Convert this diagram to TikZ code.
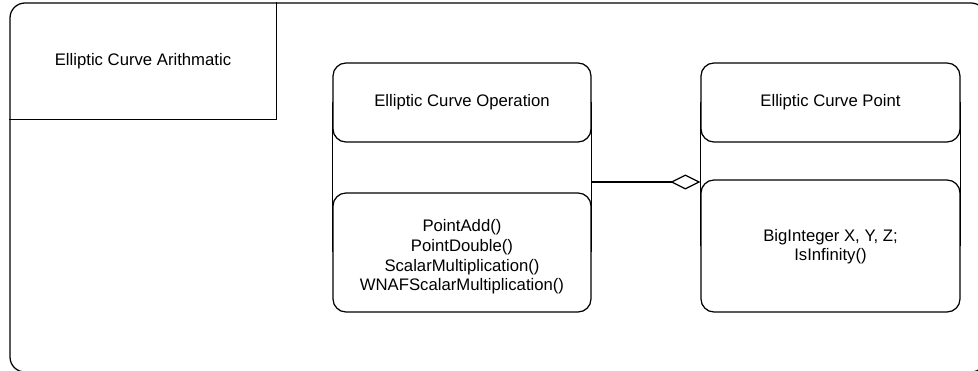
\documentclass[tikz,border=0pt]{standalone}
\usepackage{fontspec}
\setmainfont{Liberation Sans}
\usetikzlibrary{arrows.meta}
\begin{document}
\begin{tikzpicture}[x=1pt,y=-1pt,line width=1.25pt,
  txt/.style={font=\fontsize{16.7}{19.6}\selectfont,align=center,inner sep=0pt},
  part/.style={draw,rounded corners=13pt,inner sep=0pt},
  frame/.style={inner sep=0pt}]
\useasboundingbox (0,0) rectangle (978,371);
\begin{scope}
  \clip (0,0) rectangle (978,371);
  \draw[rounded corners=15pt] (10,3) rectangle (986,372);
\end{scope}
% package label
\node[frame,minimum width=266pt,minimum height=116pt] (lab) at (143,61) {};
\draw (lab.south west) -- (lab.south east) -- (lab.north east);
\node[txt] (labtext) at (lab.center) {Elliptic Curve Arithmatic};
% Elliptic Curve Operation
\node[frame,minimum width=258pt,minimum height=249pt] (opframe) at (462,187.5) {};
\node[part,minimum width=258pt,minimum height=79pt] (ophead) at (462,102.5) {};
\node[part,minimum width=258pt,minimum height=119pt] (opbody) at (462,252.5) {};
\draw (ophead.west) -- (opbody.west);
\draw (ophead.east) -- (opbody.east);
\node[txt] (optitle) at (ophead.center) {Elliptic Curve Operation};
\node[txt] (opmeth) at (462,257) {PointAdd()\\PointDouble()\\ScalarMultiplication()\\WNAFScalarMultiplication()};
% Elliptic Curve Point
\node[frame,minimum width=259pt,minimum height=249pt] (ptframe) at (830.5,187.5) {};
\node[part,minimum width=259pt,minimum height=79pt] (pthead) at (830.5,102.5) {};
\node[part,minimum width=259pt,minimum height=132pt] (ptbody) at (830.5,246) {};
\draw (pthead.west) -- (ptbody.west);
\draw (pthead.east) -- (ptbody.east);
\node[txt] (pttitle) at (pthead.center) {Elliptic Curve Point};
\node[txt] (ptattr) at (830.5,246.5) {BigInteger X, Y, Z;\\IsInfinity()};
% aggregation connector
\coordinate (link) at (0,182);
\draw[-{Diamond[open,length=30pt,width=15pt,line width=1.25pt]}] (opframe.east |- link) -- (ptframe.west |- link);
\end{tikzpicture}
\end{document}
